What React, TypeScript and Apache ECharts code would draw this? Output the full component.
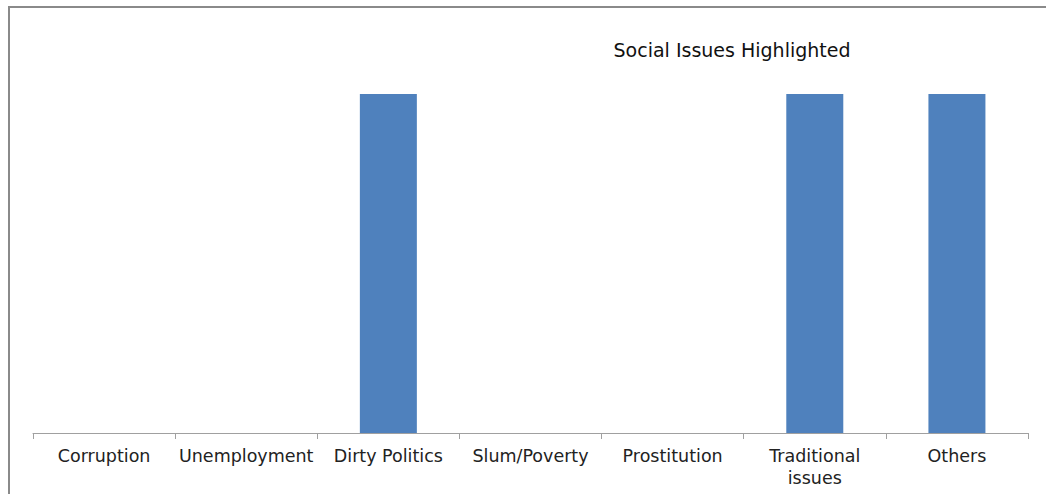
import React, { useEffect, useRef } from "react";
import * as echarts from "echarts";

const categories = [
  "Corruption",
  "Unemployment",
  "Dirty Politics",
  "Slum/Poverty",
  "Prostitution",
  "Traditional issues",
  "Others",
];
const values = [0, 0, 1, 0, 0, 1, 1];
const titleText = "Social Issues Highlighted";

export default function App() {
  const ref = useRef<HTMLDivElement>(null);
  useEffect(() => {
    if (!ref.current) return;
    const chart = echarts.init(ref.current, null, { renderer: "svg" });
    const font = "'DejaVu Sans', 'Open Sans', sans-serif";
    chart.setOption({
      animation: false,
      backgroundColor: "#ffffff",
      title: {
        text: titleText,
        left: 727,
        top: 35,
        textAlign: "center",
        textStyle: { fontFamily: font, fontSize: 19, fontWeight: "normal", color: "#111" },
      },
      graphic: [
        {
          type: "rect",
          shape: { x: 9, y: 7, width: 1100, height: 600 },
          style: { fill: "none", stroke: "#8a8a8a", lineWidth: 2 },
          silent: true,
        },
      ],
      grid: { left: 33, right: 18, top: 94, bottom: 61 },
      xAxis: {
        type: "category",
        data: categories,
        axisLine: { lineStyle: { color: "#a0a0a0", width: 1 } },
        axisTick: { show: true, length: 6, lineStyle: { color: "#a0a0a0" } },
        axisLabel: {
          interval: 0,
          margin: 12,
          fontFamily: font,
          fontSize: 17.5,
          lineHeight: 22,
          color: "#222",
          formatter: (v: string) => (v === "Traditional issues" ? "Traditional\nissues" : v),
        },
      },
      yAxis: {
        type: "value",
        min: 0,
        max: 1,
        show: false,
        splitLine: { show: false },
      },
      series: [
        {
          type: "bar",
          data: values,
          barWidth: 57,
          itemStyle: { color: "#4f81bd" },
        },
      ],
    });
    return () => chart.dispose();
  }, []);
  return (
    <div
      ref={ref}
      style={{ position: "absolute", left: 0, top: 0, width: 1046, height: 494 }}
    />
  );
}
